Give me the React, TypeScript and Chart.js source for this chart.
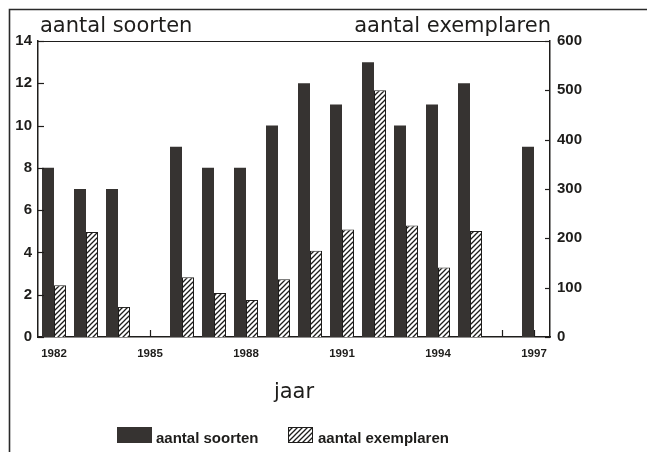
import React, { useEffect, useRef } from 'react';
import { Chart, registerables } from 'chart.js';

Chart.register(...registerables);

// ---- data ----
const years = ['1982', '1983', '1984', '1985', '1986', '1987', '1988', '1989', '1990', '1991', '1992', '1993', '1994', '1995', '1996', '1997'];
const aantalSoorten = [8, 7, 7, null, 9, 8, 8, 10, 12, 11, 13, 10, 11, 12, null, 9];
const aantalExemplaren = [105, 213, 61, null, 121, 89, 75, 117, 175, 218, 500, 226, 141, 215, null, null];
const seriesLabels = ['aantal soorten', 'aantal exemplaren'];
const leftTitle = 'aantal soorten';
const rightTitle = 'aantal exemplaren';
const xTitle = 'jaar';
const leftMax = 14;
const leftStep = 2;
const rightMax = 600;
const rightStep = 100;
const labelEvery = 3;

const INK = '#1e1d1b';
const DARK = '#363331';

function makeHatch(): CanvasPattern | string {
  const c = document.createElement('canvas');
  const s = 5;
  c.width = s;
  c.height = s;
  const g = c.getContext('2d');
  if (!g) return '#fff';
  g.fillStyle = '#ffffff';
  g.fillRect(0, 0, s, s);
  g.strokeStyle = INK;
  g.lineWidth = 1.3;
  g.beginPath();
  g.moveTo(-1, s + 1);
  g.lineTo(s + 1, -1);
  g.moveTo(-1, 1);
  g.lineTo(1, -1);
  g.moveTo(s - 1, s + 1);
  g.lineTo(s + 1, s - 1);
  g.stroke();
  const p = g.createPattern(c, 'repeat');
  return p || '#fff';
}

export default function App() {
  const ref = useRef<HTMLCanvasElement | null>(null);

  useEffect(() => {
    const canvas = ref.current;
    if (!canvas) return;
    const hatch = makeHatch();

    const decor = {
      id: 'decor',
      beforeDatasetsDraw(chart: any) {
        const { ctx, chartArea, scales } = chart;
        ctx.save();
        ctx.strokeStyle = INK;
        ctx.lineWidth = 1.2;
        const xs = scales.x;
        xs.ticks.forEach((_: any, i: number) => {
          const x = Math.round(xs.getPixelForTick(i)) + 0.5;
          ctx.beginPath();
          ctx.moveTo(x, chartArea.bottom);
          ctx.lineTo(x, chartArea.bottom - 7);
          ctx.stroke();
        });
        ctx.restore();
      },
      afterDraw(chart: any) {
        const { ctx, chartArea, scales } = chart;
        const { left, right, top } = chartArea;
        ctx.save();
        // page frame
        ctx.strokeStyle = '#2a2a2a';
        ctx.lineWidth = 1.6;
        ctx.beginPath();
        ctx.moveTo(9.5, 452);
        ctx.lineTo(9.5, 9.5);
        ctx.lineTo(647, 9.5);
        ctx.stroke();
        // plot top border
        ctx.strokeStyle = INK;
        ctx.lineWidth = 1;
        ctx.beginPath();
        ctx.moveTo(left, top + 0.5);
        ctx.lineTo(right, top + 0.5);
        ctx.stroke();
        // inward y ticks
        ctx.lineWidth = 1.2;
        scales.y.ticks.forEach((t: any) => {
          const y = Math.round(scales.y.getPixelForValue(t.value)) + 0.5;
          ctx.beginPath();
          ctx.moveTo(left, y);
          ctx.lineTo(left + 6, y);
          ctx.stroke();
        });
        scales.y1.ticks.forEach((t: any) => {
          const y = Math.round(scales.y1.getPixelForValue(t.value)) + 0.5;
          ctx.beginPath();
          ctx.moveTo(right, y);
          ctx.lineTo(right - 5, y);
          ctx.stroke();
        });
        // titles
        ctx.fillStyle = INK;
        ctx.font = '21px "DejaVu Sans"';
        ctx.textBaseline = 'alphabetic';
        ctx.textAlign = 'left';
        ctx.fillText(leftTitle, left + 2, 32);
        ctx.textAlign = 'right';
        ctx.fillText(rightTitle, right + 1, 32);
        ctx.textAlign = 'center';
        ctx.fillText(xTitle, (left + right) / 2, 398);
        // legend
        const ds = chart.data.datasets;
        ctx.font = 'bold 15px "Liberation Sans"';
        ctx.textAlign = 'left';
        ctx.fillStyle = ds[0].backgroundColor;
        ctx.fillRect(117, 427, 35, 16);
        ctx.fillStyle = INK;
        ctx.fillText(ds[0].label, 156, 443);
        ctx.fillStyle = ds[1].backgroundColor;
        ctx.fillRect(288, 427, 25, 16);
        ctx.strokeStyle = INK;
        ctx.lineWidth = 1;
        ctx.strokeRect(288.5, 427.5, 24, 15);
        ctx.fillStyle = INK;
        ctx.fillText(ds[1].label, 318, 443);
        ctx.restore();
      },
    };

    const noGrid = { display: false, drawTicks: false, tickLength: 0 };

    const chart = new Chart(canvas, {
      type: 'bar',
      data: {
        labels: years,
        datasets: [
          {
            label: seriesLabels[0],
            data: aantalSoorten,
            backgroundColor: DARK,
            borderColor: DARK,
            borderWidth: 0,
            yAxisID: 'y',
            categoryPercentage: 0.75,
            barPercentage: 1.0,
          },
          {
            label: seriesLabels[1],
            data: aantalExemplaren,
            backgroundColor: hatch as any,
            borderColor: INK,
            borderWidth: 1,
            yAxisID: 'y1',
            categoryPercentage: 0.75,
            barPercentage: 1.0,
          },
        ],
      },
      options: {
        animation: false,
        responsive: false,
        maintainAspectRatio: false,
        layout: { padding: { top: 41, left: 0, right: 0, bottom: 0 } },
        plugins: {
          legend: { display: false },
          tooltip: { enabled: false },
          title: { display: false },
        },
        scales: {
          x: {
            type: 'category',
            grid: noGrid,
            border: { display: true, color: INK, width: 1.5 },
            ticks: {
              autoSkip: false,
              maxRotation: 0,
              minRotation: 0,
              padding: 10,
              color: INK,
              font: { family: 'Liberation Sans', weight: 'bold', size: 11.5 },
              callback: function (this: any, value: any, index: number) {
                return index % labelEvery === 0 ? this.getLabelForValue(value) : '';
              },
            },
            afterFit: (s: any) => {
              s.height = 115;
            },
          },
          y: {
            type: 'linear',
            position: 'left',
            min: 0,
            max: leftMax,
            grid: noGrid,
            border: { display: true, color: INK, width: 1.5 },
            ticks: {
              stepSize: leftStep,
              padding: 6,
              color: INK,
              font: { family: 'Liberation Sans', weight: 'bold', size: 15 },
            },
            afterFit: (s: any) => {
              s.width = 38;
            },
          },
          y1: {
            type: 'linear',
            position: 'right',
            min: 0,
            max: rightMax,
            grid: noGrid,
            border: { display: true, color: INK, width: 1.5 },
            ticks: {
              stepSize: rightStep,
              padding: 7,
              color: INK,
              font: { family: 'Liberation Sans', weight: 'bold', size: 15 },
            },
            afterFit: (s: any) => {
              s.width = 97;
            },
          },
        },
      },
      plugins: [decor],
    });

    return () => {
      chart.destroy();
    };
  }, []);

  return (
    <div style={{ position: 'absolute', left: 0, top: 0, width: 647, height: 452, background: '#fff' }}>
      <canvas ref={ref} width={647} height={452} style={{ display: 'block', width: 647, height: 452 }} />
    </div>
  );
}
